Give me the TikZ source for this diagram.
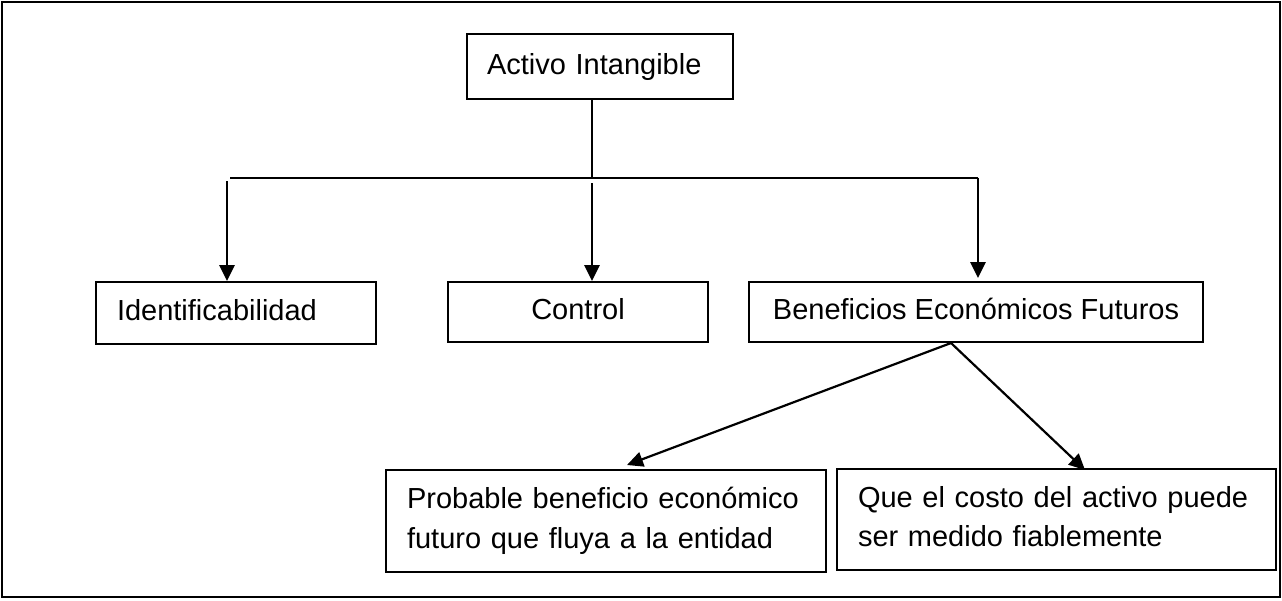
\documentclass[tikz,border=0pt]{standalone}
\usepackage{fontspec}
\setmainfont{Liberation Sans}
\usetikzlibrary{arrows.meta}
\begin{document}
\begin{tikzpicture}[x=1pt,y=-1pt,
  box/.style={draw,line width=2pt,inner ysep=0pt,font=\fontsize{29}{39.5}\selectfont},
  oneline/.style={text height=21.2pt,text depth=6.1pt},
  thinline/.style={line width=1.3pt},
  arr/.style={line width=2.8pt,-{Triangle[width=15pt,length=16pt]}},
  darr/.style={line width=2.2pt,-{Triangle[width=15pt,length=16pt]}}]
\useasboundingbox (0,0) rectangle (1282,600);
\draw[line width=2.8pt] (2,2) rectangle (1280,597);

\node[box,oneline,text width=226pt,inner xsep=20pt,minimum height=65pt,align=left] (A) at (600,66.5) {Activo Intangible};
\node[box,oneline,text width=238pt,inner xsep=21pt,minimum height=62pt,align=left] (I) at (236,313) {Identificabilidad};
\node[box,oneline,minimum width=260pt,minimum height=60pt] (C) at (578,312) {Control};
\node[box,oneline,minimum width=454pt,minimum height=60pt] (B) at (976,312) {Beneficios Económicos Futuros};
\node[box,text width=398pt,inner xsep=21pt,minimum height=102pt,align=left] (P) at (606,521) {Probable beneficio económico\\futuro que fluya a la entidad\vphantom{q}};
\node[box,text width=397pt,inner xsep=21pt,minimum height=101pt,align=left] (Q) at (1056.5,519.5) {Que el costo del activo puede\\ser medido fiablemente\vphantom{q}};

\coordinate (j) at (592,178);
\coordinate (hl) at (230,178);
\coordinate (hr) at (978,178);
\coordinate (a1) at (227,181);
\coordinate (a2) at (592,183);
\coordinate (a3) at (978,177.5);
\coordinate (bs) at ([xshift=-25pt]B.south);
\coordinate (pt) at ([xshift=21pt,yshift=4pt]P.north);
\coordinate (qt) at ([xshift=28.5pt,yshift=-2pt]Q.north);

\draw[thinline] (A.south -| j) -- (j);
\draw[thinline] (hl) -- (hr);
\draw[arr] (a1) -- (a1 |- I.north);
\draw[arr] (a2) -- (a2 |- C.north);
\draw[arr] (a3) -- ([yshift=3pt]a3 |- B.north);
\draw[darr] (bs) -- (pt);
\draw[darr] (bs) -- (qt);
\end{tikzpicture}
\end{document}
